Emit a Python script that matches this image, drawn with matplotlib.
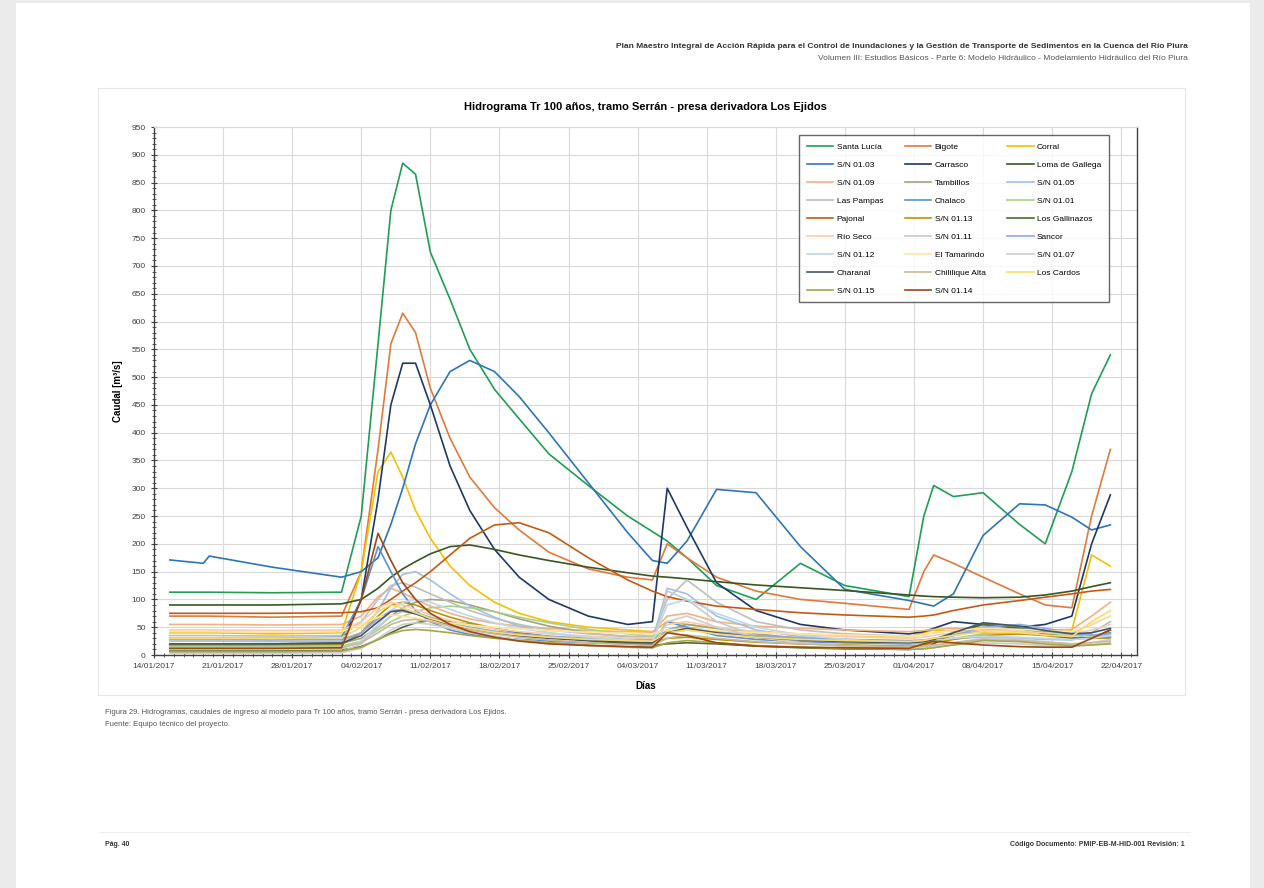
import pandas as pd
import matplotlib
matplotlib.use('Agg')
import matplotlib.pyplot as plt
import matplotlib.dates as mdates
from matplotlib.patches import Rectangle
from matplotlib.lines import Line2D

plt.rcParams['font.family'] = ['Liberation Sans', 'DejaVu Sans']

# days after 14/01/2017 (shared time grid of the hydrographs)
dias = [1.6, 5, 5.6, 12, 19, 21, 22.7, 24, 25.2, 26.5, 28, 30, 32, 34.5, 37, 40, 44, 48,
        50.5, 52, 54, 57, 61, 65.5, 70, 76.5, 78, 79, 81, 84, 87.7, 90.3, 93, 95, 96.9]

santa_lucia = [113, 113, 113, 112, 113, 250, 560, 800, 885, 865, 725, 640, 550, 478, 425, 362, 305, 250,
               222, 205, 175, 125, 100, 165, 125, 105, 250, 305, 285, 292, 235, 200, 330, 470, 540]
bigote = [70, 70, 70, 68, 70, 150, 370, 560, 615, 580, 480, 390, 320, 265, 225, 185, 155, 140,
          135, 200, 175, 140, 115, 100, 93, 82, 150, 180, 165, 140, 110, 90, 85, 250, 370]
corral = [40, 40, 40, 38, 40, 150, 330, 365, 320, 260, 210, 160, 125, 95, 75, 60, 50, 45,
          42, 60, 55, 48, 42, 38, 35, 33, 40, 45, 42, 40, 38, 37, 45, 180, 160]
sn_0103 = [171, 165, 178, 158, 140, 150, 175, 235, 300, 380, 450, 510, 530, 510, 465, 400, 310, 220,
           170, 165, 205, 298, 292, 195, 118, 98, 92, 88, 110, 215, 272, 270, 248, 225, 234]
carrasco = [20, 20, 20, 20, 22, 100, 280, 450, 525, 525, 450, 340, 260, 190, 140, 100, 70, 55,
            60, 300, 230, 130, 80, 55, 45, 38, 42, 48, 60, 55, 50, 55, 70, 200, 288]
loma_gallega = [90, 90, 90, 90, 92, 100, 120, 140, 155, 168, 182, 195, 198, 190, 180, 170, 158, 148,
                142, 140, 137, 132, 126, 121, 116, 108, 106, 105, 104, 103, 104, 108, 115, 123, 130]
sn_0109 = [55, 55, 55, 54, 55, 70, 105, 120, 112, 100, 88, 75, 65, 57, 52, 48, 44, 42,
           41, 70, 75, 60, 52, 48, 45, 42, 44, 46, 48, 47, 46, 45, 46, 70, 95]
tambillos = [20, 20, 20, 20, 21, 30, 50, 70, 85, 95, 100, 98, 90, 78, 65, 52, 40, 32,
             28, 45, 55, 48, 38, 30, 25, 22, 24, 26, 35, 55, 50, 40, 32, 30, 30]
sn_0105 = [25, 25, 25, 24, 25, 40, 80, 120, 145, 150, 135, 110, 88, 68, 52, 40, 32, 28,
           26, 120, 110, 70, 45, 33, 28, 25, 26, 28, 30, 32, 30, 28, 27, 40, 60]
las_pampas = [35, 35, 35, 34, 35, 60, 100, 125, 130, 122, 110, 95, 80, 66, 55, 45, 38, 34,
              32, 100, 135, 95, 60, 45, 38, 34, 36, 40, 45, 50, 46, 42, 40, 55, 70]
chalaco = [30, 30, 30, 30, 32, 100, 195, 150, 110, 80, 60, 45, 37, 32, 28, 25, 22, 20,
           20, 60, 50, 35, 28, 24, 22, 20, 22, 28, 35, 45, 48, 42, 38, 35, 40]
sn_0101 = [15, 15, 15, 15, 16, 25, 45, 60, 70, 78, 85, 88, 85, 78, 68, 58, 46, 38,
           34, 40, 45, 40, 34, 28, 24, 21, 22, 25, 30, 38, 42, 40, 36, 34, 35]
pajonal = [75, 75, 75, 75, 76, 78, 85, 100, 115, 130, 150, 180, 210, 234, 238, 220, 175, 135,
           115, 105, 97, 88, 82, 76, 72, 68, 70, 72, 80, 90, 98, 104, 110, 115, 118]
sn_0113 = [18, 18, 18, 18, 19, 40, 70, 90, 95, 90, 80, 68, 58, 48, 40, 33, 27, 23,
           21, 30, 32, 28, 23, 20, 18, 16, 18, 22, 28, 35, 38, 35, 30, 30, 32]
los_gallinazos = [8, 8, 8, 8, 9, 15, 28, 40, 50, 58, 62, 60, 55, 48, 40, 33, 26, 20,
                  17, 20, 22, 20, 16, 13, 11, 10, 12, 20, 40, 55, 48, 38, 30, 30, 45]
rio_seco = [45, 45, 45, 44, 45, 60, 85, 95, 90, 82, 72, 62, 54, 47, 42, 38, 34, 31,
            30, 55, 60, 50, 42, 37, 33, 30, 32, 35, 40, 45, 43, 40, 38, 45, 55]
sn_0111 = [5, 5, 5, 5, 6, 20, 50, 70, 78, 75, 65, 52, 42, 34, 27, 22, 17, 14,
           12, 115, 100, 60, 35, 22, 16, 12, 13, 15, 18, 22, 20, 17, 15, 18, 22]
sancor = [28, 28, 28, 27, 28, 40, 65, 80, 82, 76, 68, 58, 50, 43, 38, 34, 30, 27,
          26, 45, 50, 42, 35, 31, 28, 26, 27, 30, 35, 50, 55, 48, 40, 36, 38]
sn_0112 = [10, 10, 10, 10, 11, 25, 55, 80, 95, 100, 95, 82, 70, 58, 48, 40, 32, 27,
           24, 90, 100, 75, 50, 36, 28, 22, 24, 26, 30, 34, 32, 30, 28, 30, 35]
el_tamarindo = [42, 42, 42, 41, 42, 55, 68, 72, 70, 66, 62, 58, 54, 50, 47, 44, 41, 39,
                38, 45, 48, 44, 40, 38, 36, 34, 36, 40, 44, 48, 46, 44, 42, 55, 70]
sn_0107 = [3, 3, 3, 3, 4, 12, 30, 45, 55, 58, 55, 48, 40, 33, 27, 22, 17, 14,
           12, 60, 70, 50, 32, 22, 16, 12, 13, 16, 22, 30, 28, 24, 20, 22, 28]
charanal = [20, 20, 20, 20, 21, 35, 60, 78, 80, 74, 65, 55, 46, 39, 34, 30, 26, 23,
            22, 40, 48, 40, 32, 27, 24, 22, 24, 28, 40, 58, 52, 44, 38, 40, 48]
chililique = [12, 12, 12, 12, 13, 22, 40, 55, 62, 64, 60, 52, 45, 38, 32, 27, 22, 19,
              17, 30, 36, 30, 24, 20, 17, 15, 16, 18, 22, 28, 26, 23, 20, 22, 25]
los_cardos = [30, 30, 30, 30, 31, 50, 78, 90, 85, 76, 66, 56, 48, 41, 36, 32, 28, 26,
              25, 40, 45, 38, 32, 28, 26, 24, 26, 30, 35, 42, 40, 36, 33, 60, 80]
sn_0115 = [6, 6, 6, 6, 7, 14, 28, 38, 44, 46, 44, 40, 35, 30, 26, 22, 18, 15,
           13, 22, 26, 22, 17, 14, 12, 10, 11, 13, 18, 26, 24, 20, 17, 18, 20]
sn_0114 = [12, 12, 12, 12, 13, 100, 219, 170, 130, 100, 75, 55, 42, 32, 25, 20, 17, 15,
           14, 40, 35, 22, 16, 14, 13, 12, 20, 25, 22, 18, 15, 14, 14, 30, 45]

nombres = ['Santa Lucía', 'Bigote', 'Corral', 'S/N 01.03', 'Carrasco', 'Loma de Gallega',
           'S/N 01.09', 'Tambillos', 'S/N 01.05', 'Las Pampas', 'Chalaco', 'S/N 01.01',
           'Pajonal', 'S/N 01.13', 'Los Gallinazos', 'Río Seco', 'S/N 01.11', 'Sancor',
           'S/N 01.12', 'El Tamarindo', 'S/N 01.07', 'Charanal', 'Chililique Alta',
           'Los Cardos', 'S/N 01.15', 'S/N 01.14']
series = [santa_lucia, bigote, corral, sn_0103, carrasco, loma_gallega, sn_0109, tambillos,
          sn_0105, las_pampas, chalaco, sn_0101, pajonal, sn_0113, los_gallinazos, rio_seco,
          sn_0111, sancor, sn_0112, el_tamarindo, sn_0107, charanal, chililique, los_cardos,
          sn_0115, sn_0114]
colores = ['#1f9e55', '#e07a3c', '#f5c000', '#2e75b6', '#1f3864', '#385723',
           '#f4b183', '#a5a27a', '#9dc3e6', '#bfbfbf', '#5b8fd6', '#a9d18e',
           '#c55a11', '#bf9000', '#4e6b2e', '#f8cbad', '#c9c9c9', '#8faadc',
           '#bdd7ee', '#ffe699', '#d0cece', '#44546a', '#c9b99b', '#ffd966',
           '#a6a64a', '#9e480e']

inicio = pd.Timestamp('2017-01-14')
fechas = inicio + pd.to_timedelta(dias, unit='D')

W, H = 1264, 888
fig = plt.figure(figsize=(W / 100, H / 100), dpi=100, facecolor='#ecebeb')
fig.patches.append(Rectangle((16 / W, 0), (1250 - 16) / W, 1 - 3 / H, transform=fig.transFigure,
                             facecolor='white', edgecolor='none', zorder=-2))
# chart area frame
fig.patches.append(Rectangle((98 / W, 1 - 695 / H), (1185 - 98) / W, (695 - 88) / H,
                             transform=fig.transFigure, facecolor='none', edgecolor='#e6e6e6',
                             lw=0.8, zorder=-1))

ax = fig.add_axes([154 / W, 1 - 655 / H, (1137 - 154) / W, (655 - 127) / H])
ax.set_facecolor('white')

for nombre, valores, color in zip(nombres, series, colores):
    ax.plot(fechas, valores, color=color, lw=1.2, label=nombre, solid_joinstyle='round')

ax.set_ylim(0, 950)
ax.set_yticks(range(0, 951, 50))
ax.yaxis.set_minor_locator(plt.MultipleLocator(10))
ax.set_xlim(inicio, inicio + pd.Timedelta(days=99.6))
ax.xaxis.set_major_locator(mdates.WeekdayLocator(byweekday=mdates.SA))
ax.xaxis.set_minor_locator(mdates.DayLocator())
ax.xaxis.set_major_formatter(mdates.DateFormatter('%d/%m/%Y'))

ax.grid(True, which='major', color='#d9d9d9', lw=0.8)
ax.set_axisbelow(True)
ax.tick_params(which='major', direction='inout', length=5, width=0.8, labelsize=6, colors='#404040')
ax.tick_params(which='minor', direction='inout', length=3, width=0.6, colors='#404040')
for lado in ['left', 'bottom', 'right']:
    ax.spines[lado].set_color('#404040')
    ax.spines[lado].set_linewidth(1.0)
ax.spines['top'].set_color('#d9d9d9')

ax.set_title('Hidrograma Tr 100 años, tramo Serrán - presa derivadora Los Ejidos',
             fontsize=8, fontweight='bold', pad=12)
ax.set_ylabel('Caudal [m³/s]', fontsize=7, fontweight='bold', labelpad=6)
ax.set_xlabel('Días', fontsize=7, fontweight='bold', labelpad=8)

# Excel legend fills row by row; matplotlib fills column by column
handles, labels = ax.get_legend_handles_labels()
orden = [i for c in range(3) for i in range(c, len(labels), 3)]
leg = ax.legend([handles[i] for i in orden], [labels[i] for i in orden], ncol=3,
                loc='upper left', bbox_to_anchor=(795 / W, 1 - 140 / H, (1113 - 795) / W, 0.01),
                bbox_transform=fig.transFigure, mode='expand', fontsize=6, frameon=True,
                fancybox=False, edgecolor='#404040', handlelength=3.2, labelspacing=1.22,
                borderpad=0.9, handletextpad=0.4)
leg.get_frame().set_linewidth(1.0)

# page header, caption and footer
fig.text(1188 / W, 1 - 47 / H, 'Plan Maestro Integral de Acción Rápida para el Control de Inundaciones y la '
         'Gestión de Transporte de Sedimentos en la Cuenca del Río Piura',
         ha='right', va='center', fontsize=6, fontweight='bold', color='#333333')
fig.text(1188 / W, 1 - 58 / H, 'Volumen III: Estudios Básicos - Parte 6: Modelo Hidráulico - Modelamiento '
         'Hidráulico del Río Piura',
         ha='right', va='center', fontsize=6, color='#555555')
fig.text(105 / W, 1 - 713 / H, 'Figura 29. Hidrogramas, caudales de ingreso al modelo para Tr 100 años, '
         'tramo Serrán - presa derivadora Los Ejidos.',
         ha='left', va='center', fontsize=5.5, color='#555555')
fig.text(105 / W, 1 - 724 / H, 'Fuente: Equipo técnico del proyecto.',
         ha='left', va='center', fontsize=5.5, color='#555555')
fig.add_artist(Line2D([100 / W, 1190 / W], [1 - 832 / H, 1 - 832 / H], color='#eeeeee', lw=0.8))
fig.text(105 / W, 1 - 844 / H, 'Pág. 40', ha='left', va='center', fontsize=5, fontweight='bold',
         color='#333333')
fig.text(1185 / W, 1 - 844 / H, 'Código Documento: PMIP-EB-M-HID-001 Revisión: 1',
         ha='right', va='center', fontsize=5, fontweight='bold', color='#333333')

fig.savefig('out.png', dpi=100, facecolor=fig.get_facecolor())
